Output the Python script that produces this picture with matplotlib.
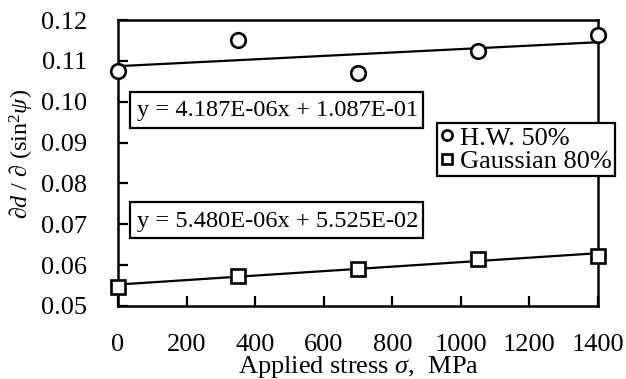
import matplotlib
matplotlib.use("Agg")
import matplotlib.pyplot as plt
from matplotlib.patches import Rectangle
import numpy as np

plt.rcParams['font.family'] = 'serif'
plt.rcParams['font.serif'] = ['Liberation Serif', 'DejaVu Serif']
plt.rcParams['mathtext.fontset'] = 'custom'
plt.rcParams['mathtext.rm'] = 'Liberation Serif'
plt.rcParams['mathtext.it'] = 'Liberation Serif:italic'

stress = [0, 350, 700, 1050, 1400]
hw50 = [0.1075, 0.1151, 0.1070, 0.1124, 0.1163]
gauss80 = [0.0547, 0.0574, 0.0590, 0.0616, 0.0623]
hw_fit = (4.187e-06, 1.087e-01)
ga_fit = (5.480e-06, 5.525e-02)
hw_eq = "y = 4.187E-06x + 1.087E-01"
ga_eq = "y = 5.480E-06x + 5.525E-02"
xticks = [0, 200, 400, 600, 800, 1000, 1200, 1400]
yticks = [0.05, 0.06, 0.07, 0.08, 0.09, 0.10, 0.11, 0.12]

W, H = 626, 379
fig = plt.figure(figsize=(W/100, H/100), dpi=100)
ax = fig.add_axes([118/W, 1-306/H, (598-118)/W, (306-20)/H])

def afx(px):
    return (px-118)/480

def afy(py):
    return 1-(py-20)/286

xs = np.array([0, 1400])
ax.plot(xs, hw_fit[0]*xs + hw_fit[1], color='black', lw=1.6, zorder=2)
ax.plot(xs, ga_fit[0]*xs + ga_fit[1], color='black', lw=1.6, zorder=2)
ax.plot(stress, hw50, linestyle='none', marker='o', markersize=10.5, markerfacecolor='white',
        markeredgecolor='black', markeredgewidth=1.9, label='H.W. 50%', zorder=3, clip_on=False)
ax.plot(stress, gauss80, linestyle='none', marker='s', markersize=10.5, markerfacecolor='white',
        markeredgecolor='black', markeredgewidth=1.9, label='Gaussian 80%', zorder=3, clip_on=False)

ax.set_xlim(0, 1400)
ax.set_ylim(0.05, 0.12)
ax.set_xticks(xticks)
ax.set_yticks(yticks)
ax.set_yticklabels([f"{v:.2f}" for v in yticks])
ax.tick_params(direction='in', length=7, width=1.6, labelsize=19)
ax.tick_params(axis='y', pad=22)
ax.tick_params(axis='x', pad=20)
for s in ax.spines.values():
    s.set_linewidth(1.8)

for (top, bot), eq in [((92, 128), hw_eq), ((202, 238), ga_eq)]:
    ax.add_patch(Rectangle((afx(130), afy(bot)), afx(423)-afx(130), afy(top)-afy(bot),
                           transform=ax.transAxes, facecolor='white', edgecolor='black',
                           linewidth=1.6, zorder=4))
    ax.text(afx(137), afy((top+bot)/2 + 1), eq, transform=ax.transAxes, fontsize=17.6,
            va='center', ha='left', zorder=5)

leg = ax.legend(loc='upper left', bbox_to_anchor=(afx(437), afy(123)),
                fontsize=19, frameon=True, fancybox=False, edgecolor='black',
                handlelength=0.55, handletextpad=0.2, borderpad=0.12, labelspacing=0.0,
                borderaxespad=0, markerscale=0.7, framealpha=1)
leg.get_frame().set_linewidth(1.6)
leg.set_zorder(6)

ax.set_xlabel(r"Applied stress $\sigma$,  MPa", fontsize=19, labelpad=-1)
ax.set_ylabel(r"$\partial d\ /\ \partial\ (\mathrm{sin}^2\psi)$", fontsize=17.5)
ax.yaxis.set_label_coords(afx(36), afy(154))

fig.savefig("out.png", dpi=100)
